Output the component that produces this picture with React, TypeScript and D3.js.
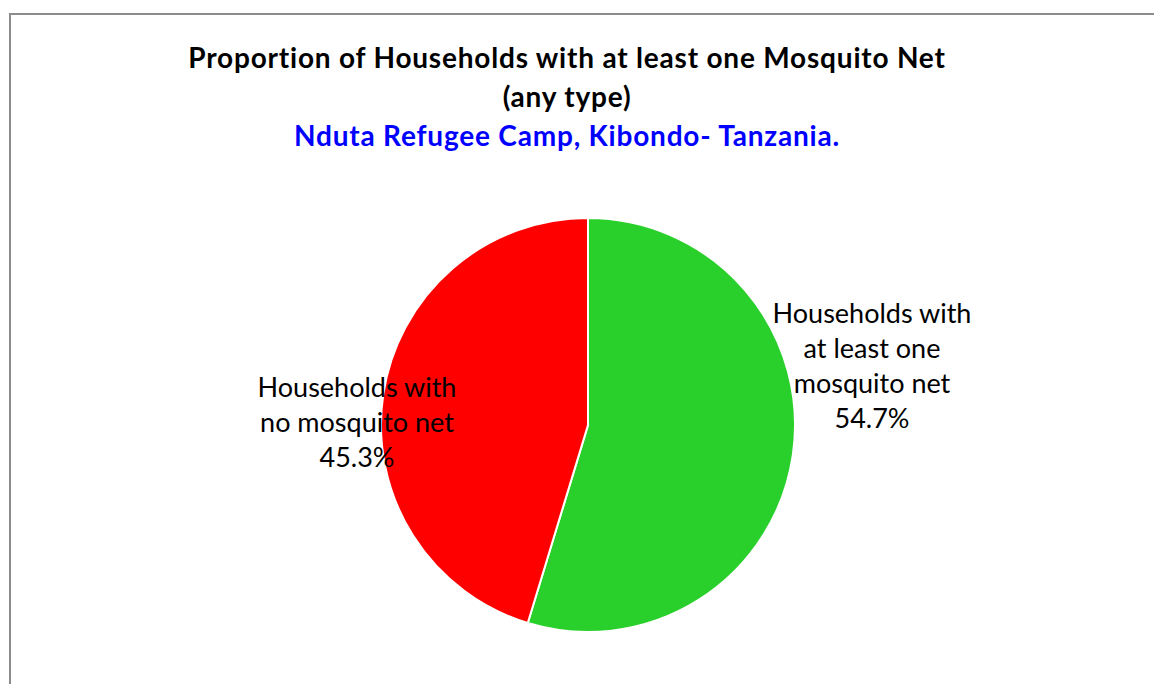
import { useEffect, useRef } from 'react';
import * as d3 from 'd3';

const categories = ['Households with at least one mosquito net', 'Households with no mosquito net'];
const values = [54.7, 45.3];
const labelLines = [
  ['Households with', 'at least one', 'mosquito net', '54.7%'],
  ['Households with', 'no mosquito net', '45.3%'],
];
const colors = ['#29cf2b', '#ff0000'];
const titleLines = ['Proportion of Households with at least one Mosquito Net', '(any type)'];
const subtitle = 'Nduta Refugee Camp, Kibondo- Tanzania.';

const App = () => {
  const svgRef = useRef<SVGSVGElement>(null!);
  const width = 1154;
  const height = 684;
  const cx = 588;
  const cy = 425;
  const radius = 207;
  const font = 'Lato, "Open Sans", sans-serif';

  useEffect(() => {
    const svg = d3.select(svgRef.current);
    svg.selectAll('*').remove();

    svg
      .append('rect')
      .attr('x', 10)
      .attr('y', 14)
      .attr('width', width + 20)
      .attr('height', height + 20)
      .attr('fill', '#fff')
      .attr('stroke', '#8c8c8c')
      .attr('stroke-width', 2);

    const title = svg
      .append('g')
      .attr('font-family', font)
      .attr('font-weight', 'bold')
      .attr('letter-spacing', 0.8)
      .attr('text-anchor', 'middle');
    titleLines.forEach((t, i) => {
      title
        .append('text')
        .attr('x', 567)
        .attr('y', 68 + i * 39)
        .attr('font-size', 28)
        .attr('fill', '#000')
        .text(t);
    });
    title
      .append('text')
      .attr('x', 567)
      .attr('y', 146)
      .attr('font-size', 28)
      .attr('fill', '#0000ff')
      .text(subtitle);

    const pie = d3
      .pie<number>()
      .sort(null)
      .value(d => d);
    const arcs = pie(values);
    const arc = d3.arc<d3.PieArcDatum<number>>().innerRadius(0).outerRadius(radius);

    const g = svg.append('g').attr('transform', `translate(${cx},${cy})`);
    g.selectAll('path')
      .data(arcs)
      .enter()
      .append('path')
      .attr('d', arc)
      .attr('fill', (_, i) => colors[i])
      .attr('stroke', '#fff')
      .attr('stroke-width', 2)
      .append('title')
      .text((_, i) => categories[i]);

    // label anchors, offset from the pie centre (Excel "best fit")
    const labelPos = [
      [284, -102],
      [-231, -28],
    ];
    const labels = g
      .selectAll('g.label')
      .data(arcs)
      .enter()
      .append('g')
      .attr('class', 'label')
      .attr('transform', (_, i) => `translate(${labelPos[i][0]},${labelPos[i][1]})`);
    labels.each(function (_, i) {
      const sel = d3.select(this);
      labelLines[i].forEach((line, j) => {
        sel
          .append('text')
          .attr('x', 0)
          .attr('y', j * 35)
          .attr('text-anchor', 'middle')
          .attr('font-family', font)
          .attr('font-size', 27)
          .attr('fill', '#000')
          .text(line);
      });
    });
  }, []);

  return (
    <svg
      ref={svgRef}
      width={width}
      height={height}
      style={{ position: 'absolute', left: 0, top: 0, background: '#fff' }}
    ></svg>
  );
};

export default App;
